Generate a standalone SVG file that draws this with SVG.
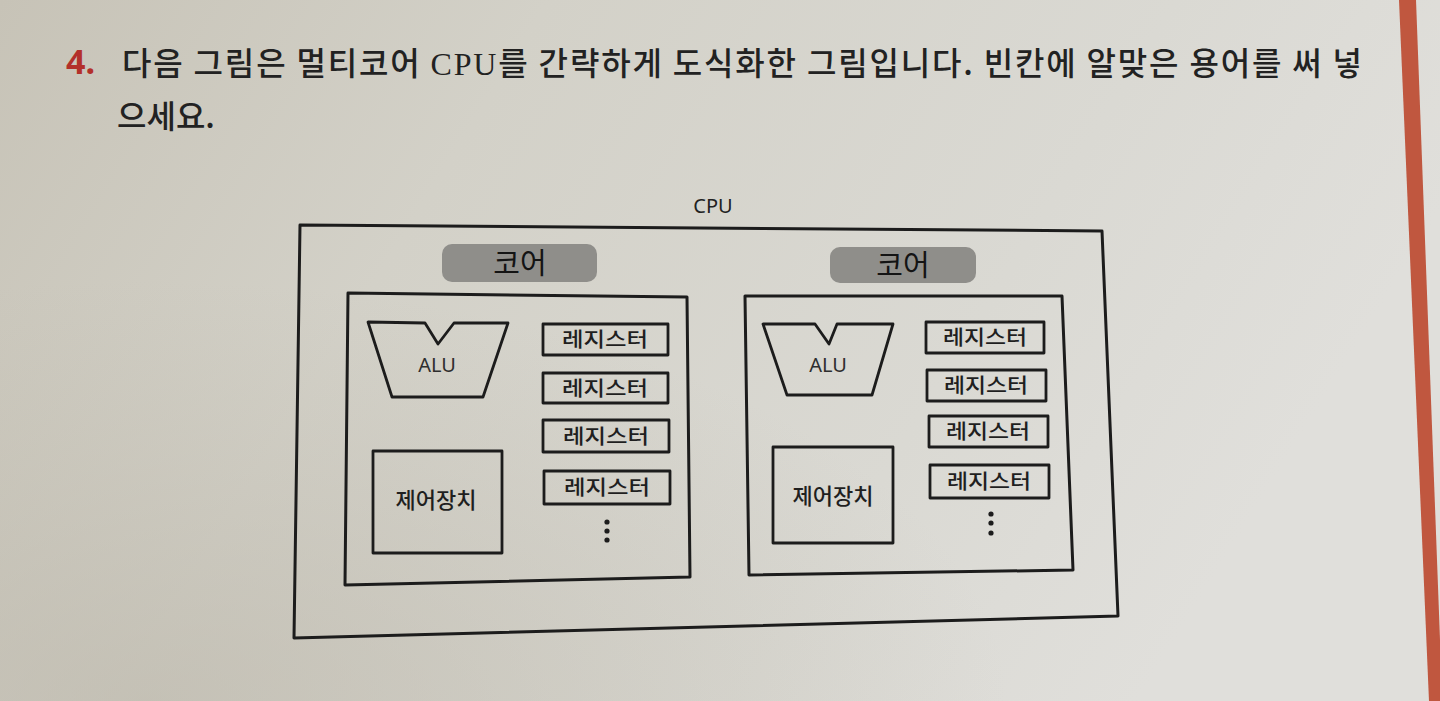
<svg xmlns="http://www.w3.org/2000/svg" width="1440" height="701" viewBox="0 0 1440 701">
  <defs>
    <linearGradient id="paper" x1="0" y1="0" x2="1" y2="0.3">
      <stop offset="0" stop-color="#c7c3b7"/>
      <stop offset="0.35" stop-color="#d3d1c8"/>
      <stop offset="0.75" stop-color="#dad9d3"/>
      <stop offset="1" stop-color="#e0dfdb"/>
    </linearGradient>
    <radialGradient id="shade" cx="0.1" cy="1" r="0.6">
      <stop offset="0" stop-color="#b8b3a6" stop-opacity="0.55"/>
      <stop offset="1" stop-color="#b8b3a6" stop-opacity="0"/>
    </radialGradient>
    <style>
      .box { fill: none; stroke: #1c1c1c; stroke-width: 3; stroke-linejoin: round; }
      .thin { fill: none; stroke: #1c1c1c; stroke-width: 2.8; stroke-linejoin: round; }
      .label { fill: #8f8e8a; }
      .hand { font-family: "Noto Sans CJK KR", "Noto Sans", sans-serif; font-size: 29px; font-weight: 400; fill: #141414; text-anchor: middle; }
      .reg { font-family: "Noto Sans CJK KR", "Noto Sans", sans-serif; font-size: 20px; font-weight: 500; fill: #1f1f1f; text-anchor: middle; }
      .alu { font-family: "Noto Sans", "Noto Sans CJK KR", sans-serif; font-size: 20px; fill: #2e2e2e; text-anchor: middle; }
      .ctl { font-family: "Noto Sans CJK KR", "Noto Sans", sans-serif; font-size: 22px; font-weight: 500; fill: #1f1f1f; text-anchor: middle; }
      .head { font-family: "Noto Sans CJK KR", "Noto Sans", sans-serif; font-size: 32px; font-weight: 500; fill: #222222; }
      .dot { fill: #1c1c1c; }
    </style>
  </defs>

  <rect x="0" y="0" width="1440" height="701" fill="url(#paper)"/>
  <rect x="0" y="0" width="1440" height="701" fill="url(#shade)"/>
  <polygon points="1399,0 1416,0 1440,640 1440,701 1429,701" fill="#c0573f"/>

  <g id="question">
    <text x="66" y="74" font-family="Noto Sans, Liberation Sans, sans-serif" font-size="34" font-weight="700" fill="#b3302a">4.</text>
    <text class="head" x="122" y="75" textLength="1240" lengthAdjust="spacing">다음 그림은 멀티코어 <tspan font-family="Liberation Serif, serif">CPU</tspan>를 간략하게 도식화한 그림입니다. 빈칸에 알맞은 용어를 써 넣</text>
    <text class="head" x="117" y="128">으세요.</text>
  </g>

  <g id="cpu">
    <text x="713" y="213" font-family="Noto Sans, Liberation Sans, sans-serif" font-size="20" fill="#222" text-anchor="middle">CPU</text>
    <polygon class="box" points="300,225 1102,231 1118,616 294,638"/>
  </g>

  <g id="core-left">
    <rect class="label" x="442" y="244" width="155" height="38" rx="10"/>
    <text class="hand" x="520" y="274">코어</text>
    <polygon class="box" points="348,293 687,297 690,577 345,585"/>
  </g>

  <g id="alu-left">
    <polygon class="thin" points="368,322 425,323 438,344 454,323 508,323 483,397 392,397"/>
    <text class="alu" x="437" y="372">ALU</text>
  </g>

  <g id="registers-left">
    <rect class="thin" x="543" y="324" width="125" height="31"/>
    <text class="reg" x="605" y="347" textLength="86" lengthAdjust="spacingAndGlyphs">레지스터</text>
    <rect class="thin" x="543" y="373" width="125" height="30"/>
    <text class="reg" x="605" y="396" textLength="86" lengthAdjust="spacingAndGlyphs">레지스터</text>
    <rect class="thin" x="543" y="420" width="126" height="32"/>
    <text class="reg" x="606" y="444" textLength="86" lengthAdjust="spacingAndGlyphs">레지스터</text>
    <rect class="thin" x="544" y="471" width="126" height="33"/>
    <text class="reg" x="607" y="495" textLength="86" lengthAdjust="spacingAndGlyphs">레지스터</text>
    <circle class="dot" cx="607" cy="522" r="2.6"/>
    <circle class="dot" cx="607" cy="531" r="2.6"/>
    <circle class="dot" cx="607" cy="540" r="2.6"/>
  </g>

  <g id="control-left">
    <rect class="thin" x="373" y="451" width="129" height="102"/>
    <text class="ctl" x="436" y="508">제어장치</text>
  </g>

  <g id="core-right">
    <rect class="label" x="830" y="247" width="146" height="36" rx="10"/>
    <text class="hand" x="903" y="276">코어</text>
    <polygon class="box" points="745,296 1062,296 1073,570 749,575"/>
  </g>

  <g id="alu-right">
    <polygon class="thin" points="763,324 815,324 829,344 837,324 893,324 872,395 787,395"/>
    <text class="alu" x="828" y="372">ALU</text>
  </g>

  <g id="registers-right">
    <rect class="thin" x="926" y="322" width="118" height="31"/>
    <text class="reg" x="985" y="345" textLength="84" lengthAdjust="spacingAndGlyphs">레지스터</text>
    <rect class="thin" x="927" y="370" width="119" height="31"/>
    <text class="reg" x="986" y="393" textLength="84" lengthAdjust="spacingAndGlyphs">레지스터</text>
    <rect class="thin" x="929" y="416" width="119" height="31"/>
    <text class="reg" x="988" y="439" textLength="84" lengthAdjust="spacingAndGlyphs">레지스터</text>
    <rect class="thin" x="930" y="465" width="119" height="33"/>
    <text class="reg" x="989" y="489" textLength="84" lengthAdjust="spacingAndGlyphs">레지스터</text>
    <circle class="dot" cx="991" cy="514" r="2.6"/>
    <circle class="dot" cx="991" cy="523" r="2.6"/>
    <circle class="dot" cx="991" cy="533" r="2.6"/>
  </g>

  <g id="control-right">
    <rect class="thin" x="773" y="447" width="120" height="96"/>
    <text class="ctl" x="833" y="504">제어장치</text>
  </g>

  <g id="connectors"></g>
</svg>
